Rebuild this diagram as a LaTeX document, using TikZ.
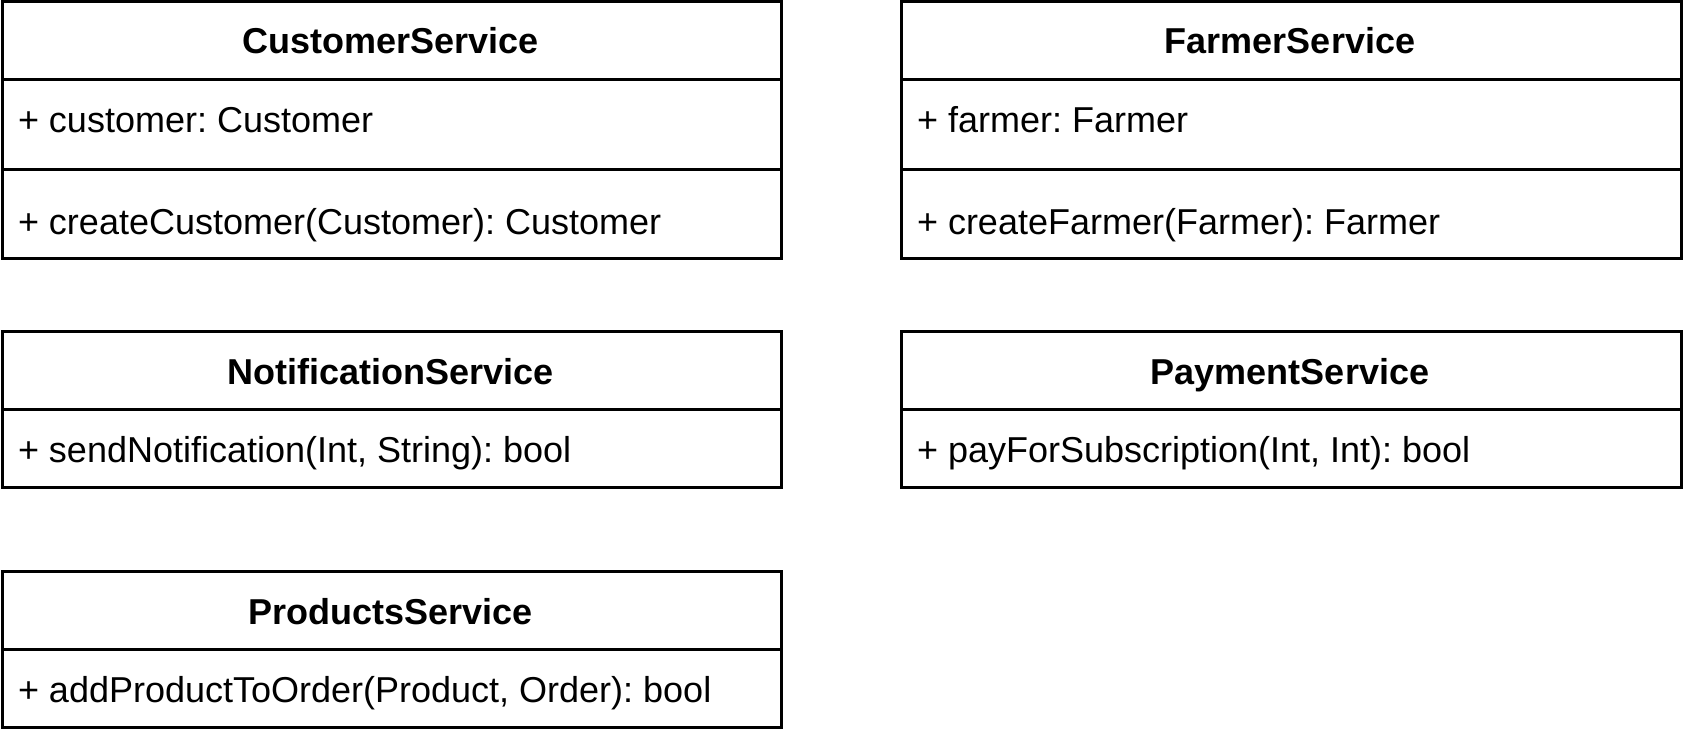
\documentclass[tikz,border=0pt]{standalone}
\usepackage{fontspec}
\setmainfont{Liberation Sans}
\frenchspacing
\begin{document}
\begin{tikzpicture}[x=0.75pt,y=-0.75pt,line width=2.25pt,
    classname/.style={font=\fontsize{27}{32}\selectfont\bfseries, inner sep=0pt, anchor=base},
    member/.style={font=\fontsize{27}{32}\selectfont, inner sep=0pt, anchor=base west}]
        \useasboundingbox (0,0) rectangle (1683,738);

        % CustomerService
        \draw (2.5,1.5) rectangle (781.5,258.5);
        \draw (2.5,79.5) -- (781.5,79.5);
        \draw (2.5,169.5) -- (781.5,169.5);
        \node[classname] (customer) at (390.5,53.6) {CustomerService};
        \node[member] (customer-attr) at (16.5,132.3) {+ customer: Customer};
        \node[member] (customer-op) at (16.5,234.5) {+ createCustomer(Customer): Customer};

        % FarmerService
        \draw (901.5,1.5) rectangle (1681.5,258.5);
        \draw (901.5,79.5) -- (1681.5,79.5);
        \draw (901.5,169.5) -- (1681.5,169.5);
        \node[classname] (farmer) at (1290,53.6) {FarmerService};
        \node[member] (farmer-attr) at (915.5,132.3) {+ farmer: Farmer};
        \node[member] (farmer-op) at (915.5,234.5) {+ createFarmer(Farmer): Farmer};

        % NotificationService
        \draw (2.5,331.5) rectangle (781.5,487.5);
        \draw (2.5,409) -- (781.5,409);
        \node[classname] (notification) at (390.5,384) {NotificationService};
        \node[member] (notification-op) at (16.5,462) {+ sendNotification(Int, String): bool};

        % PaymentService
        \draw (901.5,331.5) rectangle (1681.5,487.5);
        \draw (901.5,409) -- (1681.5,409);
        \node[classname] (payment) at (1290,384) {PaymentService};
        \node[member] (payment-op) at (915.5,462) {+ payForSubscription(Int, Int): bool};

        % ProductsService
        \draw (2.5,571.5) rectangle (781.5,727.5);
        \draw (2.5,649) -- (781.5,649);
        \node[classname] (products) at (390.5,624) {ProductsService};
        \node[member] (products-op) at (16.5,702.5) {+ addProductToOrder(Product, Order): bool};
\end{tikzpicture}
\end{document}
